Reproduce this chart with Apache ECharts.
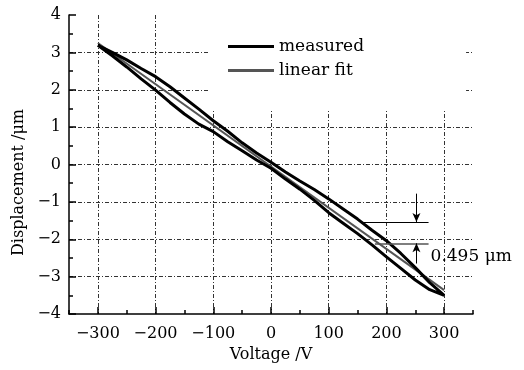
<!DOCTYPE html>
<html>
<head>
<meta charset="utf-8">
<script src="https://cdn.jsdelivr.net/npm/echarts@6/dist/echarts.min.js"></script>
<style>
  html, body { margin: 0; padding: 0; background: #fff; }
  #chart { width: 524px; height: 370px; }
</style>
</head>
<body>
<div id="chart"></div>
<script>
// voltage steps (V) and the two branches of the hysteresis loop (um)
const voltage = [-300, -275, -250, -225, -200, -175, -150, -125, -100, -75, -50, -25, 0,
  25, 50, 75, 100, 125, 150, 175, 200, 225, 250, 275, 300]
const upperBranch = [3.19, 3.00, 2.80, 2.57, 2.35, 2.08, 1.78, 1.48, 1.17, 0.89, 0.58, 0.31, 0.06,
  -0.20, -0.44, -0.67, -0.92, -1.19, -1.46, -1.76, -2.04, -2.38, -2.76, -3.16, -3.50]
const lowerBranch = [3.19, 2.91, 2.61, 2.29, 1.99, 1.66, 1.35, 1.08, 0.88, 0.61, 0.37, 0.12, -0.10,
  -0.39, -0.66, -0.96, -1.29, -1.57, -1.85, -2.15, -2.47, -2.78, -3.09, -3.35, -3.50]

// linear fit end points
const fitVoltage = [-300, 300]
const fitDisp = [3.25, -3.36]

// 0.495 um annotation
const gapTop = -1.54
const gapBottom = -2.11
const gapLabel = '0.495 μm'

const xTicks = [-300, -200, -100, 0, 100, 200, 300]

const loop = voltage.map((v, i) => [v, lowerBranch[i]])
  .concat(voltage.map((v, i) => [v, upperBranch[i]]).reverse())
const fitLine = fitVoltage.map((v, i) => [v, fitDisp[i]])

const font = 'DejaVu Serif'
const minus = (v) => String(v).replace('-', '\u2212')
const gridStyle = { color: '#333', width: 1, type: [4, 2, 1, 2] }

const chart = echarts.init(document.getElementById('chart'))
chart.setOption({
  animation: false,
  grid: { left: 69, right: 51, top: 15, bottom: 56 },
  legend: {
    data: ['measured', 'linear fit'],
    orient: 'vertical',
    left: 208,
    top: 15,
    padding: [23, 102, 32, 20],
    backgroundColor: '#fff',
    icon: 'rect',
    itemWidth: 46,
    itemHeight: 3,
    itemGap: 7,
    textStyle: { fontFamily: font, fontSize: 17, color: '#000' }
  },
  xAxis: [
    {
      type: 'value',
      min: -350,
      max: 350,
      interval: 50,
      name: 'Voltage /V',
      nameLocation: 'middle',
      nameGap: 30,
      nameTextStyle: { fontFamily: font, fontSize: 16, color: '#000' },
      axisLine: { onZero: false, lineStyle: { color: '#000', width: 1.5 } },
      axisTick: { inside: true, length: 4, lineStyle: { color: '#000', width: 1.5 } },
      axisLabel: {
        fontFamily: font, fontSize: 16, color: '#000', margin: 12,
        formatter: (v) => (v % 100 === 0 && Math.abs(v) <= 300 ? minus(v) : '')
      },
      splitLine: { show: true, lineStyle: Object.assign({}, gridStyle, { color: ['rgba(0,0,0,0)', '#333'] }) }
    },
    {
      type: 'value',
      min: -350,
      max: 350,
      position: 'bottom',
      axisLine: { show: false, onZero: false },
      axisLabel: { show: false },
      splitLine: { show: false },
      axisTick: { show: true, inside: true, length: 7, customValues: xTicks, lineStyle: { color: '#000', width: 1.5 } }
    }
  ],
  yAxis: {
    type: 'value',
    min: -4,
    max: 4,
    interval: 1,
    name: 'Displacement /μm',
    nameLocation: 'middle',
    nameGap: 36,
    nameTextStyle: { fontFamily: font, fontSize: 16, color: '#000', padding: [0, 36, 0, 0] },
    axisLine: { show: true, onZero: false, lineStyle: { color: '#000', width: 1.5 } },
    axisTick: { inside: true, length: 7, lineStyle: { color: '#000', width: 1.5 } },
    minorTick: { show: true, splitNumber: 2, length: 4, lineStyle: { color: '#000', width: 1.5 } },
    axisLabel: { fontFamily: font, fontSize: 16, color: '#000', margin: 8, formatter: minus },
    splitLine: { show: true, showMinLine: false, showMaxLine: false, lineStyle: gridStyle }
  },
  series: [
    {
      name: 'linear fit',
      type: 'line',
      data: fitLine,
      symbol: 'none',
      z: 3,
      lineStyle: { color: '#555', width: 2 },
      itemStyle: { color: '#555' },
      markLine: {
        silent: true,
        symbol: 'none',
        label: { show: false },
        data: [
          [{ coord: [158, gapTop], lineStyle: { color: '#000', width: 1, type: 'solid' } }, { coord: [273, gapTop] }],
          [{ coord: [180, gapBottom], lineStyle: { color: '#555', width: 1.5, type: 'solid' } }, { coord: [273, gapBottom] }],
          [{ coord: [252, -0.78], symbol: 'none', lineStyle: { color: '#000', width: 1, type: 'solid' } },
            { coord: [252, gapTop], symbol: 'arrow', symbolSize: [6, 9] }],
          [{ coord: [252, -2.65], symbol: 'none', lineStyle: { color: '#000', width: 1, type: 'solid' } },
            { coord: [252, gapBottom], symbol: 'arrow', symbolSize: [6, 9] }]
        ]
      },
      markPoint: {
        silent: true,
        symbol: 'circle',
        symbolSize: 0,
        data: [{ coord: [273, -2.46], value: gapLabel }],
        label: {
          show: true, position: 'right', distance: 2,
          formatter: gapLabel, fontFamily: font, fontSize: 17, color: '#000'
        }
      }
    },
    {
      name: 'measured',
      type: 'line',
      data: loop,
      symbol: 'none',
      z: 4,
      lineStyle: { color: '#000', width: 3 },
      itemStyle: { color: '#000' }
    }
  ]
})
</script>
</body>
</html>
